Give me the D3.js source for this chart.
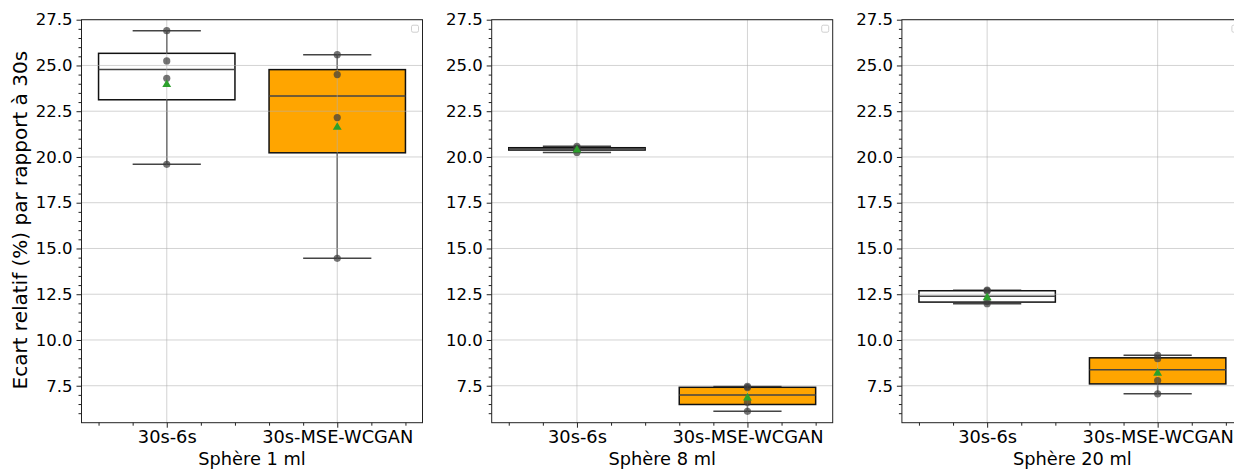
<!DOCTYPE html>
<html>
<head>
<meta charset="utf-8">
<script src="https://cdn.jsdelivr.net/npm/d3@7"></script>
<style>
  html, body { margin: 0; padding: 0; background: #fff; }
  svg { display: block; font-family: "DejaVu Sans", sans-serif; }
</style>
</head>
<body>
<svg id="chart" width="1234" height="470"></svg>
<script>
// ---- data ----
const categories = ["30s-6s", "30s-MSE-WCGAN"];
const panelTitles = ["Sphère 1 ml", "Sphère 8 ml", "Sphère 20 ml"];
const sphere1_6s    = [19.60, 24.30, 25.25, 26.90];
const sphere1_wcgan = [14.46, 22.15, 24.50, 25.59];
const sphere8_6s    = [20.25, 20.42, 20.48, 20.58];
const sphere8_wcgan = [6.10, 6.60, 7.40, 7.46];
const sphere20_6s    = [11.98, 12.10, 12.68, 12.72];
const sphere20_wcgan = [7.06, 7.78, 8.98, 9.16];
const yTicks = [7.5, 10.0, 12.5, 15.0, 17.5, 20.0, 22.5, 25.0, 27.5];
const yLabel = "Ecart relatif (%) par rapport à 30s";
const boxColors = ["#ffffff", "#ffa500"];

const panels = [
  [sphere1_6s, sphere1_wcgan],
  [sphere8_6s, sphere8_wcgan],
  [sphere20_6s, sphere20_wcgan]
];

// ---- layout ----
const svg = d3.select("#chart");
const plotTop = 19.7, plotBottom = 422.7;
const panelW = 341;
const panelLefts = [81.5, 491.7, 901.9];

const y = d3.scaleLinear().domain([5.48, 27.5]).range([plotBottom, plotTop]);
const yMinor = d3.range(6.0, 27.51, 0.5).filter(v => Math.abs((v / 2.5) - Math.round(v / 2.5)) > 1e-6);

function stats(vals) {
  const s = vals.slice().sort(d3.ascending);
  const q1 = d3.quantile(s, 0.25), med = d3.quantile(s, 0.5), q3 = d3.quantile(s, 0.75);
  const iqr = q3 - q1;
  const lo = d3.min(s.filter(v => v >= q1 - 1.5 * iqr));
  const hi = d3.max(s.filter(v => v <= q3 + 1.5 * iqr));
  return { q1, med, q3, lo, hi, mean: d3.mean(s), pts: s };
}

const fontYTick = 16.5;
const fontXTick = 17.8;
const fontXLabel = 17.8;
const fontYLabel = 20;

panels.forEach((pdata, pi) => {
  const left = panelLefts[pi];
  const x = d3.scaleLinear().domain([-0.5, 1.5]).range([left, left + panelW]);
  const g = svg.append("g");

  // boxes
  pdata.forEach((vals, ci) => {
    const st = stats(vals);
    const cx = x(ci);
    const hw = x(ci + 0.4) - cx;
    const cw = x(ci + 0.2) - cx;
    g.append("line").attr("x1", cx).attr("x2", cx).attr("y1", y(st.q3)).attr("y2", y(st.hi))
      .attr("stroke", "#555").attr("stroke-width", 1.5);
    g.append("line").attr("x1", cx).attr("x2", cx).attr("y1", y(st.q1)).attr("y2", y(st.lo))
      .attr("stroke", "#555").attr("stroke-width", 1.5);
    [st.lo, st.hi].forEach(v => {
      g.append("line").attr("x1", cx - cw).attr("x2", cx + cw).attr("y1", y(v)).attr("y2", y(v))
        .attr("stroke", "#444").attr("stroke-width", 1.5);
    });
    g.append("rect").attr("x", cx - hw).attr("width", 2 * hw)
      .attr("y", y(st.q3)).attr("height", Math.max(0.5, y(st.q1) - y(st.q3)))
      .attr("fill", boxColors[ci]).attr("stroke", "#111").attr("stroke-width", 1.5);
    g.append("line").attr("x1", cx - hw).attr("x2", cx + hw).attr("y1", y(st.med)).attr("y2", y(st.med))
      .attr("stroke", "#444").attr("stroke-width", 1.5);
  });

  // grid (drawn over boxes)
  const grid = g.append("g").attr("stroke", "#b0b0b0").attr("stroke-opacity", 0.7).attr("stroke-width", 0.8);
  yTicks.forEach(v => {
    grid.append("line").attr("x1", left).attr("x2", left + panelW).attr("y1", y(v)).attr("y2", y(v));
  });
  categories.forEach((c, ci) => {
    grid.append("line").attr("x1", x(ci)).attr("x2", x(ci)).attr("y1", plotTop).attr("y2", plotBottom);
  });

  // points + means
  pdata.forEach((vals, ci) => {
    const st = stats(vals);
    const cx = x(ci);
    g.selectAll(null).data(st.pts).enter().append("circle")
      .attr("cx", cx).attr("cy", d => y(d)).attr("r", 3.6)
      .attr("fill", "#3a3a3a").attr("fill-opacity", 0.7);
    const my = y(st.mean);
    g.append("path").attr("d", d3.symbol(d3.symbolTriangle, 34)())
      .attr("transform", `translate(${cx},${my + 1})`)
      .attr("fill", "#2ca02c");
  });

  // spines
  g.append("rect").attr("x", left).attr("y", plotTop).attr("width", panelW).attr("height", plotBottom - plotTop)
    .attr("fill", "none").attr("stroke", "#222").attr("stroke-width", 1);

  // empty legend box
  g.append("rect").attr("x", left + panelW - 11).attr("y", plotTop + 5.5).attr("width", 7).attr("height", 7)
    .attr("rx", 1.5).attr("fill", "#fff").attr("stroke", "#d0d0d0").attr("stroke-width", 1);

  // y axis
  const yAxis = d3.axisLeft(y).tickValues(yTicks).tickFormat(d3.format(".1f")).tickSize(5).tickPadding(4);
  const ya = g.append("g").attr("transform", `translate(${left},0)`).call(yAxis);
  ya.select(".domain").remove();
  ya.selectAll("text").attr("font-size", fontYTick).attr("fill", "#000").attr("font-family", "DejaVu Sans");
  ya.selectAll("line").attr("stroke", "#222");
  const yam = d3.axisLeft(y).tickValues(yMinor).tickFormat("").tickSize(3);
  const yb = g.append("g").attr("transform", `translate(${left},0)`).call(yam);
  yb.select(".domain").remove();
  yb.selectAll("line").attr("stroke", "#222");

  // x axis
  const xAxis = d3.axisBottom(x).tickValues([0, 1]).tickFormat(i => categories[i]).tickSize(5).tickPadding(3);
  const xa = g.append("g").attr("transform", `translate(0,${plotBottom})`).call(xAxis);
  xa.select(".domain").remove();
  xa.selectAll("text").attr("font-size", fontXTick).attr("fill", "#000").attr("font-family", "DejaVu Sans");
  xa.selectAll("line").attr("stroke", "#222");
  const xMinor = [-0.4, -0.2, 0.2, 0.4, 0.6, 0.8, 1.2, 1.4];
  const xb = g.append("g").attr("transform", `translate(0,${plotBottom})`)
    .call(d3.axisBottom(x).tickValues(xMinor).tickFormat("").tickSize(3));
  xb.select(".domain").remove();
  xb.selectAll("line").attr("stroke", "#222");

  // x label
  g.append("text").attr("x", left + panelW / 2).attr("y", 465)
    .attr("text-anchor", "middle").attr("font-size", fontXLabel).attr("fill", "#000")
    .text(panelTitles[pi]);
});

// y label
svg.append("text")
  .attr("transform", `translate(27,${(plotTop + plotBottom) / 2 - 1}) rotate(-90)`)
  .attr("text-anchor", "middle").attr("font-size", fontYLabel).attr("fill", "#000")
  .text(yLabel);
</script>
</body>
</html>
